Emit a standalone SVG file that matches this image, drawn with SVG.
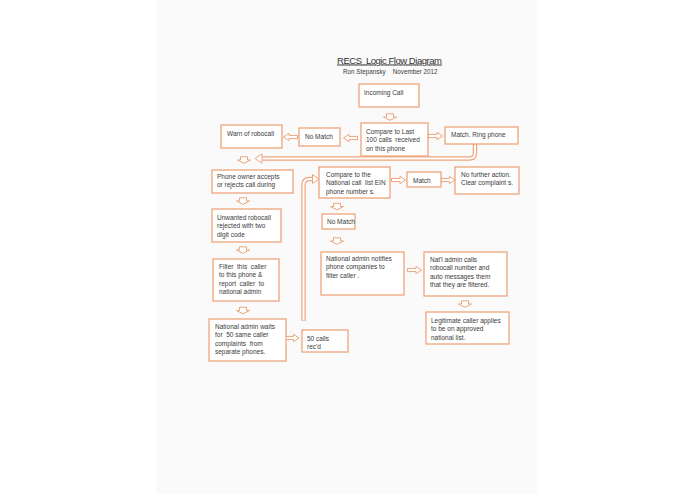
<svg xmlns="http://www.w3.org/2000/svg" xmlns:xlink="http://www.w3.org/1999/xlink" width="695" height="494" viewBox="0 0 695 494">
<style>
.box{fill:#ffffff;stroke:#eda57b;stroke-width:1.3}
.t{font-family:"Liberation Sans",Arial,sans-serif;font-size:6.5px;fill:#3a3a3a;white-space:pre}
.arr{fill:#ffffff;stroke:#eda57b;stroke-width:1}
.pipeo{fill:none;stroke:#eda57b;stroke-width:4.4}
.pipei{fill:none;stroke:#ffffff;stroke-width:2}
</style>
<defs>
<path id="ar" class="arr" d="M-7,-1.6 H1.5 V-3.6 L7,0 L1.5,3.6 V1.6 H-7 Z"/>
<path id="ad" class="arr" d="M-3.5,-3.2 H3.5 V0 H6.5 L0,3.3 L-6.5,0 H-3.5 Z"/>
</defs>
<rect x="0" y="0" width="695" height="494" fill="#ffffff"/>
<rect x="156" y="0" width="381" height="494" fill="#fafafa"/>
<g id="title">
<text x="337" y="63.5" font-family="Liberation Sans,Arial,sans-serif" font-size="9.5" fill="#333" text-decoration="underline" textLength="105" style="white-space:pre">RECS  Logic Flow Diagram</text>
<text x="343" y="74" class="t" style="font-size:6.3px">Ron Stepansky    November 2012</text>
</g>
<g id="connectors">
<use xlink:href="#ad" x="390" y="117"/>
<use xlink:href="#ar" x="435.5" y="136"/>
<use xlink:href="#ar" transform="translate(350.5,138) rotate(180)"/>
<use xlink:href="#ar" transform="translate(290.5,137) rotate(180)"/>
<path class="pipeo" d="M475,144 V153 Q475,158.5 469.5,158.5 H262"/>
<path class="pipei" d="M475,144.5 V153 Q475,158.5 469.5,158.5 H261"/>
<polygon class="arr" points="262,153.8 255,158.5 262,163.2"/>
<use xlink:href="#ad" x="244" y="160"/>
<use xlink:href="#ad" x="243" y="201"/>
<use xlink:href="#ad" x="243" y="250"/>
<use xlink:href="#ad" x="243" y="310.5"/>
<use xlink:href="#ar" x="292" y="338"/>
<path class="pipeo" d="M303.5,321 V185 Q303.5,179 309.5,179 H313"/>
<path class="pipei" d="M303.5,320.5 V185 Q303.5,179 309.5,179 H314"/>
<polygon class="arr" points="312.5,174.5 319,179 312.5,183.5"/>
<use xlink:href="#ar" x="398.5" y="180"/>
<use xlink:href="#ar" x="448" y="180"/>
<use xlink:href="#ad" x="337" y="206.5"/>
<use xlink:href="#ad" x="337" y="241"/>
<use xlink:href="#ar" x="414.5" y="270"/>
<use xlink:href="#ad" x="465" y="304"/>
</g>
<g id="incoming">
<rect class="box" x="359" y="84" width="60" height="23"/>
<text class="t" x="364" y="94.5">Incoming Call</text>
</g>
<g id="compare-last">
<rect class="box" x="361" y="123" width="67" height="33"/>
<text class="t" x="366" y="133.5">Compare to Last</text>
<text class="t" x="366" y="142">100 calls  received</text>
<text class="t" x="366" y="150.5">on this phone</text>
</g>
<g id="match-ring">
<rect class="box" x="445" y="127" width="73" height="17"/>
<text class="t" x="451" y="137">Match. Ring phone</text>
</g>
<g id="no-match-1">
<rect class="box" x="299" y="128" width="41" height="18"/>
<text class="t" x="305" y="138.5">No Match</text>
</g>
<g id="warn">
<rect class="box" x="221" y="125" width="61" height="23"/>
<text class="t" x="227" y="135.5">Warn of robocall</text>
</g>
<g id="phone-owner">
<rect class="box" x="212" y="170" width="81" height="23"/>
<text class="t" x="217" y="178.5">Phone owner accepts</text>
<text class="t" x="217" y="187">or rejects call during</text>
</g>
<g id="unwanted">
<rect class="box" x="212" y="209" width="69" height="33"/>
<text class="t" x="217" y="219.5">Unwanted robocall</text>
<text class="t" x="217" y="228">rejected with two</text>
<text class="t" x="217" y="236.5">digit code</text>
</g>
<g id="filter">
<rect class="box" x="213" y="259" width="66" height="42"/>
<text class="t" x="219" y="268.5">Filter  this  caller</text>
<text class="t" x="219" y="277">to this phone &amp;</text>
<text class="t" x="219" y="285.5">report  caller  to</text>
<text class="t" x="219" y="294">national admin</text>
</g>
<g id="admin-waits">
<rect class="box" x="209" y="319" width="77" height="42"/>
<text class="t" x="215" y="328.5">National admin waits</text>
<text class="t" x="215" y="337">for  50 same caller</text>
<text class="t" x="215" y="345.5">complaints  from</text>
<text class="t" x="215" y="354">separate phones.</text>
</g>
<g id="fifty-calls">
<rect class="box" x="302" y="330" width="46" height="22"/>
<text class="t" x="307" y="340.5">50 calls</text>
<text class="t" x="307" y="349">rec'd</text>
</g>
<g id="compare-national">
<rect class="box" x="319" y="167" width="71" height="31"/>
<text class="t" x="326" y="176.5">Compare to the</text>
<text class="t" x="326" y="185">National call  list EIN</text>
<text class="t" x="326" y="193.5">phone number s.</text>
</g>
<g id="match-2">
<rect class="box" x="407" y="172" width="34" height="15"/>
<text class="t" x="413" y="182.5">Match</text>
</g>
<g id="no-further">
<rect class="box" x="455" y="167" width="64" height="27"/>
<text class="t" x="461" y="176.5">No further action.</text>
<text class="t" x="461" y="185">Clear complaint s.</text>
</g>
<g id="no-match-2">
<rect class="box" x="322" y="214" width="33" height="15"/>
<text class="t" x="327" y="223.5">No Match</text>
</g>
<g id="admin-notifies">
<rect class="box" x="321" y="252" width="83" height="43"/>
<text class="t" x="326" y="260.5">National admin notifies</text>
<text class="t" x="326" y="269">phone companies to</text>
<text class="t" x="326" y="277.5">filter caller .</text>
</g>
<g id="admin-calls">
<rect class="box" x="424" y="252" width="83" height="44"/>
<text class="t" x="430" y="261.5">Nat'l admin calls</text>
<text class="t" x="430" y="270">robocall number and</text>
<text class="t" x="430" y="278.5">auto messages them</text>
<text class="t" x="430" y="287">that they are filtered.</text>
</g>
<g id="legitimate">
<rect class="box" x="426" y="312" width="83" height="32"/>
<text class="t" x="431" y="322.5">Legitimate caller applies</text>
<text class="t" x="431" y="331">to be on approved</text>
<text class="t" x="431" y="339.5">national list.</text>
</g>
</svg>
